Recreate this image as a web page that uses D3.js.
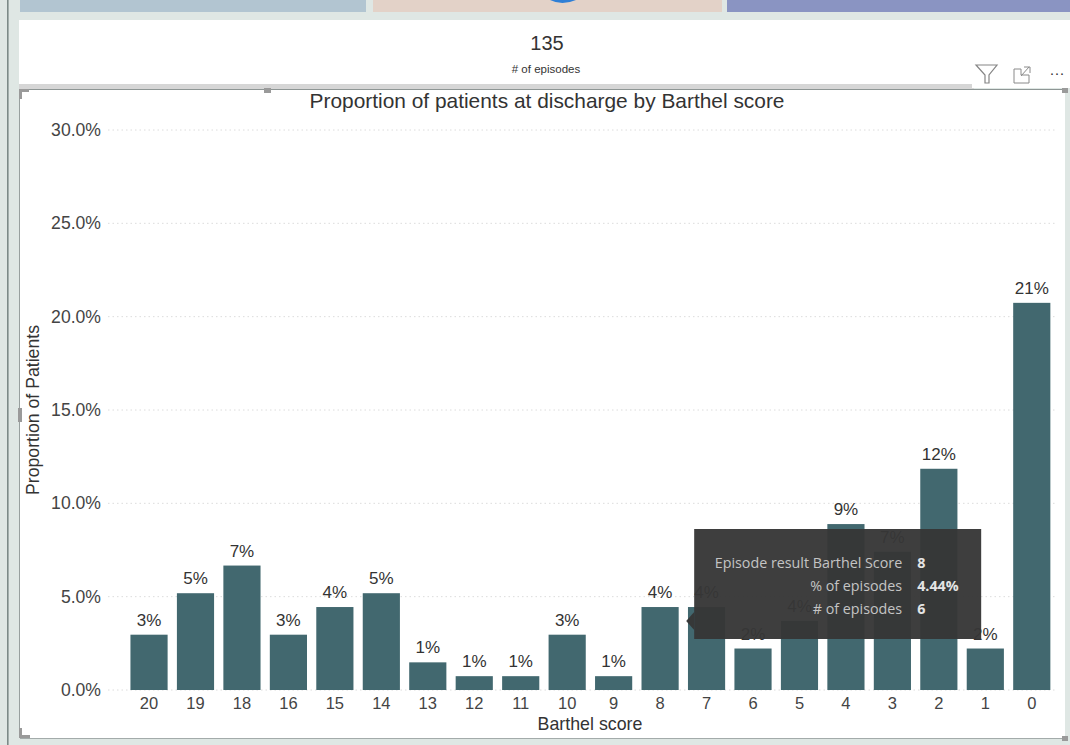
<!DOCTYPE html>
<html>
<head>
<meta charset="utf-8">
<script src="https://cdn.jsdelivr.net/npm/d3@7/dist/d3.min.js"></script>
<style>
html,body{margin:0;padding:0;background:#dfe7e4;overflow:hidden}
svg{display:block}
text{font-family:"Liberation Sans",Arial,sans-serif;fill:#333}
</style>
</head>
<body>
<svg id="chart" width="1070" height="745"></svg>
<script>
// Barthel score at discharge, episode counts per score
const scores = ["20","19","18","16","15","14","13","12","11","10","9","8","7","6","5","4","3","2","1","0"];
const episodes = [4,7,9,4,6,7,2,1,1,4,1,6,6,3,5,12,10,16,3,28];
const totalEpisodes = 135;
const yTicks = [0,5,10,15,20,25,30];
const tooltipKeys = ["Episode result Barthel Score","% of episodes","# of episodes"];
const tooltipValues = ["8","4.44%","6"];
const hoveredScore = "8";

const share = episodes.map(n => n / totalEpisodes * 100);
const svg = d3.select("#chart");

const x = d3.scaleBand().domain(scores).range([125.8,1055]).paddingInner(0.2).paddingOuter(0.1);
const y = d3.scaleLinear().domain([0,30]).range([690,130]);

// Report page furniture: side rule, header tiles, card panels
svg.append("rect").attr("x",7).attr("y",0).attr("width",1.6).attr("height",745).attr("fill","#7d8a88");
[[20,346,"#b2c5d1"],[373,349,"#e3d2c8"],[727,343,"#8a94c2"]].forEach(([l,w,c]) => {
  svg.append("rect").attr("x",l).attr("y",0).attr("width",w).attr("height",12).attr("fill",c);
});
svg.append("path").attr("d","M550,0 Q562,6 576,0 Z").attr("fill","#2f7fd6");
svg.append("rect").attr("x",19).attr("y",20).attr("width",1051).attr("height",66).attr("fill","#fff");
svg.append("rect").attr("x",20).attr("y",90).attr("width",1045).attr("height",648).attr("fill","#fff");
svg.append("rect").attr("x",19).attr("y",84).attr("width",955).attr("height",5).attr("fill","#d6d6d6");
svg.append("line").attr("x1",20).attr("x2",1065).attr("y1",89.5).attr("y2",89.5).attr("stroke","#8e9695");
svg.append("line").attr("x1",20).attr("x2",1065).attr("y1",738.5).attr("y2",738.5).attr("stroke","#a3abaa");
svg.append("line").attr("x1",19.5).attr("x2",19.5).attr("y1",89).attr("y2",738).attr("stroke","#98a09f");

// Selection handles around the visual
const handle = "#9a9a9a";
svg.append("path").attr("d","M19,89h10v3h-7v7h-3z").attr("fill",handle);
svg.append("path").attr("d","M19,728h3v7h8v3h-11z").attr("fill",handle);
svg.append("rect").attr("x",264).attr("y",88).attr("width",7).attr("height",5).attr("fill",handle);
svg.append("rect").attr("x",18).attr("y",408).attr("width",4).attr("height",14).attr("fill",handle);
svg.append("rect").attr("x",1062).attr("y",88).attr("width",6).attr("height",5).attr("fill",handle);
svg.append("rect").attr("x",1062).attr("y",736).attr("width",6).attr("height",5).attr("fill",handle);

// Card showing the episode count
svg.append("text").attr("x",547).attr("y",50).attr("text-anchor","middle").attr("font-size",20).text(String(totalEpisodes));
svg.append("text").attr("x",546).attr("y",73).attr("text-anchor","middle").attr("font-size",11.5).text("# of episodes");

// Visual header icons: filter, focus, more options
svg.append("rect").attr("x",972).attr("y",62).attr("width",98).attr("height",26).attr("fill","#fff");
svg.append("path").attr("d","M976,65H997L989,75V83H985V75Z").attr("fill","none").attr("stroke","#858585").attr("stroke-width",1.2);
svg.append("path").attr("d","M1014,69V83H1029V75H1021V69ZM1021,76L1029,67M1024,67H1030V73").attr("fill","none").attr("stroke","#8a8a8a").attr("stroke-width",1);
svg.append("text").attr("x",1057).attr("y",78).attr("text-anchor","middle").attr("font-size",15).attr("fill","#666").text("\u00b7\u00b7\u00b7");

// Title
svg.append("text").attr("x",547).attr("y",108).attr("text-anchor","middle").attr("font-size",20.9).text("Proportion of patients at discharge by Barthel score");

// Value axis with dotted gridlines
const yAxis = svg.append("g")
  .call(d3.axisLeft(y).tickValues(yTicks).tickFormat(d => d.toFixed(1) + "%").tickSize(0).tickPadding(0));
yAxis.select(".domain").remove();
yAxis.selectAll("text").attr("x",101).attr("dy","0.32em").attr("font-size",17.6)
  .style("font-family",'"Liberation Sans",Arial,sans-serif').style("fill","#444");
svg.append("g").selectAll("line").data(yTicks).join("line")
  .attr("x1",108).attr("x2",1055).attr("y1",d => y(d)).attr("y2",d => y(d))
  .attr("stroke","#dcdcdc").attr("stroke-width",1).attr("stroke-dasharray","1.5 3");

// Category axis
const xAxis = svg.append("g").attr("transform","translate(0,690)")
  .call(d3.axisBottom(x).tickSize(0).tickPadding(7));
xAxis.select(".domain").remove();
xAxis.selectAll("text").attr("font-size",16.5)
  .style("font-family",'"Liberation Sans",Arial,sans-serif').style("fill","#444");

svg.append("text").attr("x",590).attr("y",730).attr("text-anchor","middle").attr("font-size",17.8).text("Barthel score");
svg.append("text").attr("transform","translate(39,410) rotate(-90)").attr("text-anchor","middle").attr("font-size",17.7).text("Proportion of Patients");

// Bars and their rounded labels
svg.append("g").selectAll("rect").data(scores).join("rect")
  .attr("x",d => x(d)).attr("width",x.bandwidth())
  .attr("y",(d,i) => y(share[i])).attr("height",(d,i) => y(0) - y(share[i]))
  .attr("fill","#42686f");
svg.append("g").selectAll("text").data(scores).join("text")
  .attr("x",d => x(d) + x.bandwidth()/2).attr("y",(d,i) => y(share[i]) - 9)
  .attr("text-anchor","middle").attr("font-size",17)
  .text((d,i) => Math.round(share[i]) + "%");

// Tooltip for the hovered bar, anchored just right of it
const tipLeft = x(hoveredScore) + x.bandwidth() + 15.5;
const tipTop = 529;
const tip = svg.append("g").attr("transform",`translate(${tipLeft},${tipTop})`);
tip.append("rect").attr("width",287).attr("height",110).attr("fill","#363636").attr("fill-opacity",0.96);
tip.append("path").attr("d","M0,83L-8,92L0,101Z").attr("fill","#363636").attr("fill-opacity",0.96);
tooltipKeys.forEach((k,i) => {
  const rowY = 39 + i*23;
  tip.append("text").attr("x",208).attr("y",rowY).attr("text-anchor","end").attr("font-size",14.3)
    .style("font-family",'"Open Sans",sans-serif').style("fill","#c4c4c4").text(k);
  tip.append("text").attr("x",223).attr("y",rowY).attr("font-size",14.3).attr("font-weight",700)
    .style("font-family",'"Open Sans",sans-serif').style("fill","#e4e4e4").text(tooltipValues[i]);
});
</script>
</body>
</html>
